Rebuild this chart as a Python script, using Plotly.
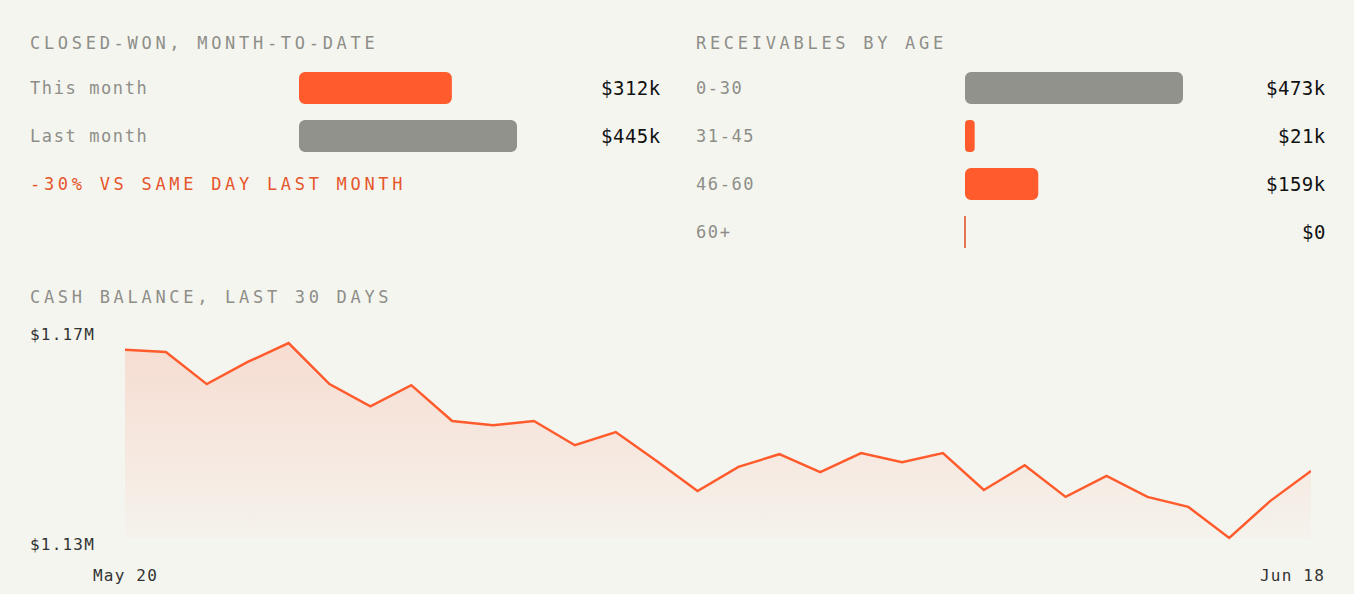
import pandas as pd
import plotly.graph_objs as go

# closed-won, month-to-date ($k)
won_labels = ["This month", "Last month"]
won_values = [312, 445]
won_note = "-30% VS SAME DAY LAST MONTH"

# receivables by age ($k)
age_labels = ["0-30", "31-45", "46-60", "60+"]
age_values = [473, 21, 159, 0]

# cash balance, last 30 days ($k)
cash_dates = pd.date_range("2024-05-20", "2024-06-18", freq="D")
cash_values = [1167.2, 1166.8, 1160.7, 1164.9, 1168.5, 1160.7, 1156.5, 1160.5, 1153.7, 1152.9,
               1153.7, 1149.1, 1151.6, 1146.1, 1140.4, 1145.0, 1147.4, 1144.0, 1147.6, 1145.9,
               1147.6, 1140.6, 1145.3, 1139.3, 1143.3, 1139.3, 1137.4, 1131.5, 1138.5, 1144.2]

W, H = 1354, 594
BG = "#f5f5f0"
ORANGE = "#ff5b2c"
GREY_BAR = "#92928c"
GREY_TXT = "#8e8e88"
MONO = "DejaVu Sans Mono"


def px_x(x):
    return x / W


def px_y(y):
    return 1 - y / H


def spaced(text, sp):
    return f'<span style="letter-spacing:{sp}px">{text}</span>'


def money(v):
    return f"${v:g}k" if v else "$0"


def pill_bars(fig, values, labels, colors, xa, ya):
    # an explicit base makes plotly round both ends of the bar
    fig.add_trace(go.Bar(
        x=values, base=[0] * len(values), y=labels, orientation="h",
        marker=dict(color=colors, cornerradius=6, line=dict(width=0)),
        width=0.667, xaxis=xa, yaxis=ya, hoverinfo="skip"))
    # empty buckets get a thin tick at zero
    zeros = [lab for lab, v in zip(labels, values) if v == 0]
    if zeros:
        fig.add_trace(go.Scatter(
            x=[0] * len(zeros), y=zeros, mode="markers", cliponaxis=False,
            marker=dict(symbol="line-ns", size=23, line=dict(color="#e0552b", width=1.6)),
            xaxis=xa, yaxis=ya, hoverinfo="skip"))


fig = go.Figure()

pill_bars(fig, won_values, won_labels, [ORANGE, GREY_BAR], "x", "y")
pill_bars(fig, age_values, age_labels, [GREY_BAR, ORANGE, ORANGE, ORANGE], "x2", "y2")

# cash balance line with gradient fill down to the minimum
lo, hi = min(cash_values), max(cash_values)
fig.add_trace(go.Scatter(
    x=cash_dates, y=[lo] * len(cash_values), mode="lines",
    line=dict(width=0), xaxis="x3", yaxis="y3", hoverinfo="skip"))
fig.add_trace(go.Scatter(
    x=cash_dates, y=cash_values, mode="lines", fill="tonexty",
    fillgradient=dict(type="vertical",
                      colorscale=[[0, "rgba(255,91,44,0.02)"], [1, "rgba(255,91,44,0.16)"]]),
    line=dict(color=ORANGE, width=2.5), xaxis="x3", yaxis="y3", hoverinfo="skip"))

pad = (hi - lo) * 5 / 195
ann = []

# section titles
title_font = dict(color=GREY_TXT, size=17)
ann.append(dict(x=px_x(28), y=px_y(43), text=spaced("CLOSED-WON, MONTH-TO-DATE", 3.7), font=title_font))
ann.append(dict(x=px_x(694), y=px_y(43), text=spaced("RECEIVABLES BY AGE", 3.7), font=title_font))
ann.append(dict(x=px_x(28), y=px_y(297), text=spaced("CASH BALANCE, LAST 30 DAYS", 3.7), font=title_font))
ann.append(dict(x=px_x(28), y=px_y(184), text=spaced(won_note, 3.7),
                font=dict(color="#e5552b", size=17)))

label_font = dict(color=GREY_TXT, size=17)
value_font = dict(color="#111111", size=19)
for lab, v in zip(won_labels, won_values):
    ann.append(dict(x=px_x(28), y=lab, yref="y", text=spaced(lab, 1.6), font=label_font))
    ann.append(dict(x=px_x(661), y=lab, yref="y", xanchor="right", xshift=2,
                    text=spaced(money(v), 0.5), font=value_font))

for lab, v in zip(age_labels, age_values):
    ann.append(dict(x=px_x(694), y=lab, yref="y2", text=spaced(lab, 1.6), font=label_font))
    ann.append(dict(x=px_x(1326), y=lab, yref="y2", xanchor="right", xshift=2,
                    text=spaced(money(v), 0.5), font=value_font))

# line chart labels
axis_font = dict(color="#333333", size=16)
ann.append(dict(x=px_x(28), y=px_y(334), text=spaced(f"${hi / 1000:.2f}M", 1.2), font=axis_font))
ann.append(dict(x=px_x(28), y=px_y(544), text=spaced(f"${lo / 1000:.2f}M", 1.2), font=axis_font))
ann.append(dict(x=cash_dates[0], xref="x3", y=px_y(575), xanchor="center",
                text=spaced(cash_dates[0].strftime("%b %d").replace(" 0", " "), 1.2), font=axis_font))
ann.append(dict(x=cash_dates[-1], xref="x3", y=px_y(575), xanchor="right", xshift=16,
                text=spaced(cash_dates[-1].strftime("%b %d").replace(" 0", " "), 1.2), font=axis_font))

for a in ann:
    a.setdefault("xref", "paper")
    a.setdefault("yref", "paper")
    a.setdefault("xanchor", "left")
    a["yanchor"] = "middle"
    a["showarrow"] = False

hidden = dict(visible=False, fixedrange=True)
fig.update_layout(
    width=W, height=H,
    margin=dict(l=0, r=0, t=0, b=0),
    paper_bgcolor=BG, plot_bgcolor=BG,
    font=dict(family=MONO, size=16),
    showlegend=False,
    barmode="overlay",
    xaxis=dict(hidden, domain=[px_x(299), px_x(517)], range=[0, max(won_values)]),
    yaxis=dict(hidden, domain=[px_y(160), px_y(64)], categoryorder="array",
               categoryarray=won_labels[::-1], range=[-0.5, len(won_labels) - 0.5]),
    xaxis2=dict(hidden, domain=[px_x(965), px_x(1183)], range=[0, max(age_values)], anchor="y2"),
    yaxis2=dict(hidden, domain=[px_y(256), px_y(64)], categoryorder="array",
                categoryarray=age_labels[::-1], range=[-0.5, len(age_labels) - 0.5], anchor="x2"),
    xaxis3=dict(hidden, domain=[px_x(125), px_x(1311)], range=[cash_dates[0], cash_dates[-1]],
                anchor="y3"),
    yaxis3=dict(hidden, domain=[px_y(543), px_y(338)], range=[lo - pad, hi + pad], anchor="x3"),
    annotations=ann,
)

fig.write_html("out.html", config={"displayModeBar": False},
               post_script="document.body.style.margin='0';document.body.style.background='%s';" % BG)
